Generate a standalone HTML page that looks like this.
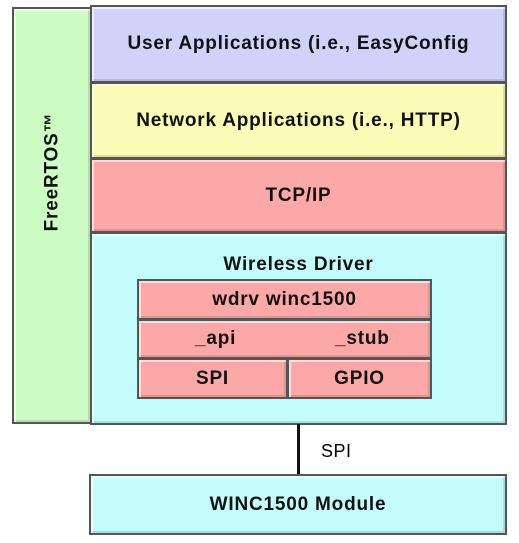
<!DOCTYPE html><html><head><style>
body{margin:0;width:519px;height:543px;background:#fff;position:relative;font-family:"Liberation Sans",sans-serif;overflow:hidden}
.b{position:absolute;box-sizing:border-box;border:2px solid #555;display:flex;align-items:center;justify-content:center;font-weight:bold;font-size:19px;letter-spacing:0.8px;color:#111;box-shadow:inset 2px 2px 0 rgba(255,255,255,.6),inset -2px -2px 0 rgba(0,0,0,.12)}
</style></head><body>
<div class="b" style="left:12px;top:7px;width:80px;height:417px;background:#ccfcc4;align-items:flex-start"><div style="position:absolute;top:152px;transform:rotate(-90deg);white-space:nowrap">FreeRTOS™</div></div>
<div class="b" style="left:90px;top:5px;width:417px;height:78px;background:#d0d2fa">User Applications (i.e., EasyConfig</div>
<div class="b" style="left:90px;top:82px;width:417px;height:77px;background:#fafcb8">Network Applications (i.e., HTTP)</div>
<div class="b" style="left:90px;top:158px;width:417px;height:75px;background:#fca8a8">TCP/IP</div>
<div class="b" style="left:90px;top:232px;width:417px;height:193px;background:#c4fcfc;align-items:flex-start;padding-top:20px">Wireless Driver</div>
<div class="b" style="left:137px;top:279px;width:295px;height:41px;background:#fca8a8">wdrv winc1500</div>
<div class="b" style="left:137px;top:319px;width:295px;height:40px;background:#fca8a8;justify-content:flex-start"><span style="position:absolute;left:56px">_api</span><span style="position:absolute;left:196px">_stub</span></div>
<div class="b" style="left:137px;top:358px;width:151px;height:41px;background:#fca8a8">SPI</div>
<div class="b" style="left:287px;top:358px;width:145px;height:41px;background:#fca8a8">GPIO</div>
<div style="position:absolute;left:297px;top:424px;width:3px;height:51px;background:#111"></div>
<div style="position:absolute;left:321px;top:441px;font-size:18px;letter-spacing:0.5px">SPI</div>
<div class="b" style="left:89px;top:474px;width:418px;height:61px;background:#c4fcfc">WINC1500 Module</div>
</body></html>
